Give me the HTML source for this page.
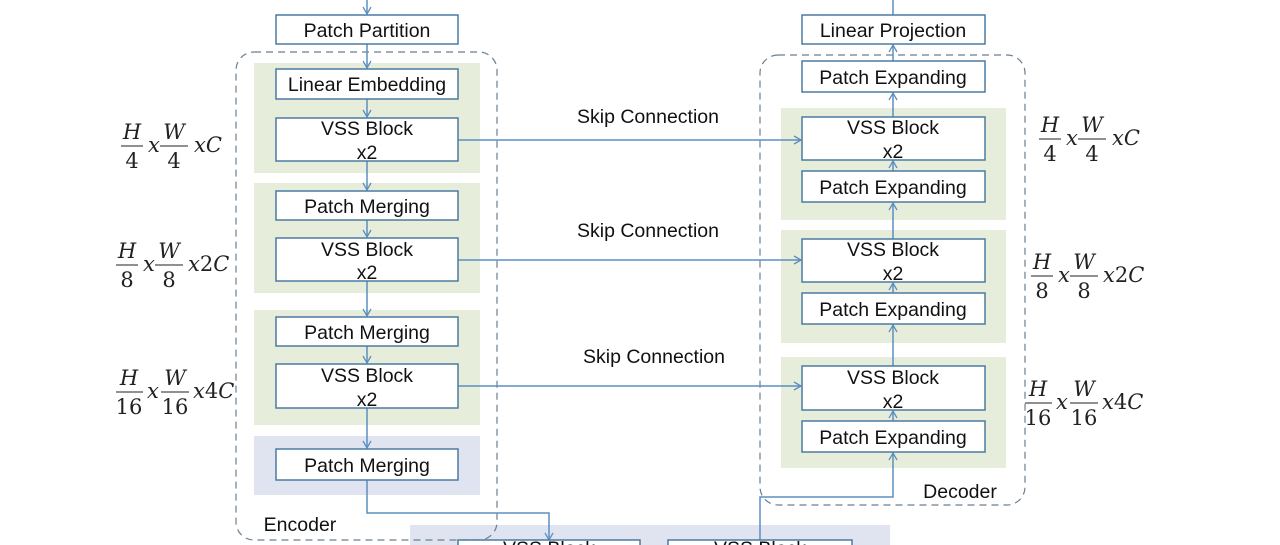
<!DOCTYPE html>
<html><head><meta charset="utf-8"><style>
html,body{margin:0;padding:0;background:#fff;}
svg{display:block;}
.b{fill:#fff;stroke:#4a7aa3;stroke-width:1.5;}
.t{font-family:"Liberation Sans",sans-serif;font-size:19.5px;fill:#111;text-anchor:middle;}
.m{font-family:"DejaVu Serif","Liberation Serif",serif;font-size:21px;fill:#222;}
.mi{font-style:italic;}
.l{stroke:#5b8fc0;stroke-width:1.5;fill:none;}
.g{fill:#e6eedb;}
.bl{fill:#dfe4f0;}
.d{fill:none;stroke:#6a7f90;stroke-width:1.2;stroke-dasharray:7,5;}
</style></head><body>
<svg width="1280" height="545" viewBox="0 0 1280 545" xmlns="http://www.w3.org/2000/svg">
<defs><marker id="a" markerWidth="10" markerHeight="10" refX="8" refY="5" orient="auto" markerUnits="userSpaceOnUse"><path d="M1,1 L8,5 L1,9" fill="none" stroke="#5b8fc0" stroke-width="1.3"/></marker>
<g id="f4"><text class="mi" x="11" y="-7" text-anchor="middle">H</text><line x1="0" y1="0" x2="22" y2="0" stroke="#222"/><text x="11" y="22" text-anchor="middle">4</text>
<text class="mi" x="27" y="6">x</text>
<text class="mi" x="53" y="-7" text-anchor="middle">W</text><line x1="39" y1="0" x2="67" y2="0" stroke="#222"/><text x="53" y="22" text-anchor="middle">4</text>
<text class="mi" x="73" y="6">xC</text></g>
<g id="f8"><text class="mi" x="11" y="-7" text-anchor="middle">H</text><line x1="0" y1="0" x2="22" y2="0" stroke="#222"/><text x="11" y="22" text-anchor="middle">8</text>
<text class="mi" x="27" y="6">x</text>
<text class="mi" x="53" y="-7" text-anchor="middle">W</text><line x1="39" y1="0" x2="67" y2="0" stroke="#222"/><text x="53" y="22" text-anchor="middle">8</text>
<text class="mi" x="72" y="6">x<tspan font-style="normal">2</tspan>C</text></g>
<g id="f16"><text class="mi" x="13" y="-7" text-anchor="middle">H</text><line x1="0" y1="0" x2="27" y2="0" stroke="#222"/><text x="13" y="22" text-anchor="middle">16</text>
<text class="mi" x="31" y="6">x</text>
<text class="mi" x="59" y="-7" text-anchor="middle">W</text><line x1="45" y1="0" x2="73" y2="0" stroke="#222"/><text x="59" y="22" text-anchor="middle">16</text>
<text class="mi" x="77" y="6">x<tspan font-style="normal">4</tspan>C</text></g>
</defs>

<rect class="g" x="254" y="63" width="226" height="110"/>
<rect class="g" x="254" y="183" width="226" height="110"/>
<rect class="g" x="254" y="310" width="226" height="115"/>
<rect class="bl" x="254" y="436" width="226" height="59"/>
<rect class="g" x="781" y="108" width="225" height="112"/>
<rect class="g" x="781" y="230" width="225" height="113"/>
<rect class="g" x="781" y="357" width="225" height="111"/>
<rect class="bl" x="410" y="525" width="480" height="25"/>

<rect class="d" x="236" y="52" width="261" height="488" rx="18"/>
<rect class="d" x="760" y="55" width="265" height="450" rx="18"/>

<line class="l" x1="367" y1="0" x2="367" y2="14" marker-end="url(#a)"/>
<line class="l" x1="367" y1="44" x2="367" y2="68" marker-end="url(#a)"/>
<line class="l" x1="367" y1="99" x2="367" y2="117" marker-end="url(#a)"/>
<line class="l" x1="367" y1="161" x2="367" y2="190" marker-end="url(#a)"/>
<line class="l" x1="367" y1="220" x2="367" y2="237" marker-end="url(#a)"/>
<line class="l" x1="367" y1="281" x2="367" y2="316" marker-end="url(#a)"/>
<line class="l" x1="367" y1="346" x2="367" y2="363" marker-end="url(#a)"/>
<line class="l" x1="367" y1="408" x2="367" y2="448" marker-end="url(#a)"/>
<polyline class="l" points="367,480 367,513 549,513 549,540" marker-end="url(#a)"/>
<polyline class="l" points="760,545 760,497 893,497 893,453" marker-end="url(#a)"/>
<line class="l" x1="893" y1="421" x2="893" y2="411" marker-end="url(#a)"/>
<line class="l" x1="893" y1="366" x2="893" y2="325" marker-end="url(#a)"/>
<line class="l" x1="893" y1="293" x2="893" y2="283" marker-end="url(#a)"/>
<line class="l" x1="893" y1="239" x2="893" y2="203" marker-end="url(#a)"/>
<line class="l" x1="893" y1="171" x2="893" y2="161" marker-end="url(#a)"/>
<line class="l" x1="893" y1="117" x2="893" y2="93" marker-end="url(#a)"/>
<line class="l" x1="893" y1="61" x2="893" y2="45" marker-end="url(#a)"/>
<line class="l" x1="893" y1="15" x2="893" y2="0"/>
<line class="l" x1="458" y1="140" x2="801" y2="140" marker-end="url(#a)"/>
<line class="l" x1="458" y1="260" x2="801" y2="260" marker-end="url(#a)"/>
<line class="l" x1="458" y1="386" x2="801" y2="386" marker-end="url(#a)"/>

<rect class="b" x="276" y="15" width="182" height="29"/><text class="t" x="367" y="37">Patch Partition</text>
<rect class="b" x="276" y="69" width="182" height="30"/><text class="t" x="367" y="91">Linear Embedding</text>
<rect class="b" x="276" y="118" width="182" height="43"/><text class="t" x="367" y="135">VSS Block</text><text class="t" x="367" y="159">x2</text>
<rect class="b" x="276" y="191" width="182" height="29"/><text class="t" x="367" y="213">Patch Merging</text>
<rect class="b" x="276" y="238" width="182" height="43"/><text class="t" x="367" y="256">VSS Block</text><text class="t" x="367" y="279">x2</text>
<rect class="b" x="276" y="317" width="182" height="29"/><text class="t" x="367" y="339">Patch Merging</text>
<rect class="b" x="276" y="364" width="182" height="44"/><text class="t" x="367" y="382">VSS Block</text><text class="t" x="367" y="406">x2</text>
<rect class="b" x="276" y="449" width="182" height="31"/><text class="t" x="367" y="472">Patch Merging</text>

<rect class="b" x="802" y="15" width="183" height="29"/><text class="t" x="893" y="37">Linear Projection</text>
<rect class="b" x="802" y="61" width="183" height="31"/><text class="t" x="893" y="84">Patch Expanding</text>
<rect class="b" x="802" y="117" width="183" height="43"/><text class="t" x="893" y="134">VSS Block</text><text class="t" x="893" y="158">x2</text>
<rect class="b" x="802" y="171" width="183" height="31"/><text class="t" x="893" y="194">Patch Expanding</text>
<rect class="b" x="802" y="239" width="183" height="43"/><text class="t" x="893" y="256">VSS Block</text><text class="t" x="893" y="280">x2</text>
<rect class="b" x="802" y="293" width="183" height="31"/><text class="t" x="893" y="316">Patch Expanding</text>
<rect class="b" x="802" y="366" width="183" height="44"/><text class="t" x="893" y="384">VSS Block</text><text class="t" x="893" y="408">x2</text>
<rect class="b" x="802" y="421" width="183" height="31"/><text class="t" x="893" y="444">Patch Expanding</text>

<rect class="b" x="458" y="540" width="182" height="20"/><text class="t" x="549" y="555">VSS Block</text>
<rect class="b" x="668" y="540" width="184" height="20"/><text class="t" x="760" y="555">VSS Block</text>

<text class="t" x="648" y="123">Skip Connection</text>
<text class="t" x="648" y="237">Skip Connection</text>
<text class="t" x="654" y="363">Skip Connection</text>
<text class="t" x="300" y="531">Encoder</text>
<text class="t" x="960" y="498">Decoder</text>

<g class="m">
<use href="#f4" transform="translate(121,146)"/>
<use href="#f8" transform="translate(116,265)"/>
<use href="#f16" transform="translate(116,392)"/>
<use href="#f4" transform="translate(1039,139)"/>
<use href="#f8" transform="translate(1031,276)"/>
<use href="#f16" transform="translate(1025,403)"/>
</g>
</svg>
</body></html>
